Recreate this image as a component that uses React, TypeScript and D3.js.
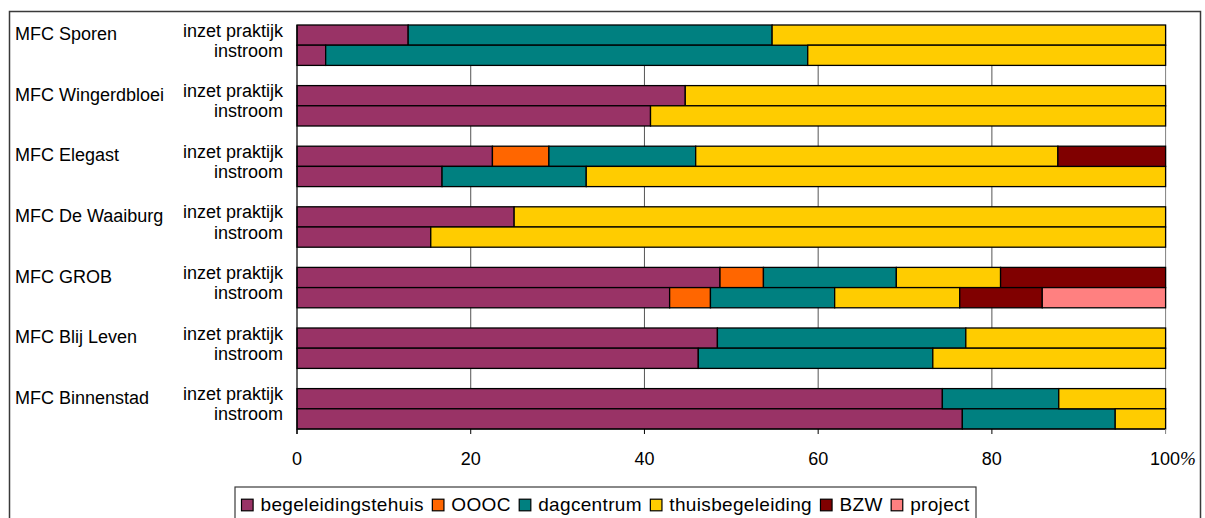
import React from 'react';
import * as d3 from 'd3';

// --- data ---
const groups = [
    'MFC Sporen',
    'MFC Wingerdbloei',
    'MFC Elegast',
    'MFC De Waaiburg',
    'MFC GROB',
    'MFC Blij Leven',
    'MFC Binnenstad',
];
const subLabels = ['inzet praktijk', 'instroom'];

const seriesNames = ['begeleidingstehuis', 'OOOC', 'dagcentrum', 'thuisbegeleiding', 'BZW', 'project'];
const seriesColors = ['#993366', '#FF6600', '#008080', '#FFCC00', '#800000', '#FF8080'];

// one value per bar: group order, "inzet praktijk" then "instroom"
const begeleidingstehuis = [12.8, 3.3, 44.7, 40.7, 22.5, 16.7, 25.0, 15.4, 48.7, 42.9, 48.4, 46.2, 74.3, 76.6];
const oooc = [0, 0, 0, 0, 6.5, 0, 0, 0, 5.0, 4.7, 0, 0, 0, 0];
const dagcentrum = [41.9, 55.5, 0, 0, 16.9, 16.6, 0, 0, 15.3, 14.3, 28.6, 27.0, 13.4, 17.6];
const thuisbegeleiding = [45.3, 41.2, 55.3, 59.3, 41.7, 66.7, 75.0, 84.6, 12.0, 14.4, 23.0, 26.8, 12.3, 5.8];
const bzw = [0, 0, 0, 0, 12.4, 0, 0, 0, 19.0, 9.5, 0, 0, 0, 0];
const project = [0, 0, 0, 0, 0, 0, 0, 0, 0, 14.2, 0, 0, 0, 0];

const seriesValues = [begeleidingstehuis, oooc, dagcentrum, thuisbegeleiding, bzw, project];
const xTicks = [0, 20, 40, 60, 80, 100];

const W = 1205;
const H = 518;
const FONT = '"Liberation Sans", Arial, Helvetica, sans-serif';

type Row = { key: string; [name: string]: number | string };

// rows: two bars per group, an empty slot between groups
const rowKeys: string[] = [];
groups.forEach((g, gi) => {
    rowKeys.push(`${g}|0`, `${g}|1`);
    if (gi < groups.length - 1) rowKeys.push(`${g}|gap`);
});

const rows: Row[] = groups.flatMap((g, gi) =>
    subLabels.map((_s, si) => {
        const r: Row = { key: `${g}|${si}` };
        seriesNames.forEach((n, k) => { r[n] = seriesValues[k][gi * 2 + si]; });
        return r;
    }),
);

let measureCtx: CanvasRenderingContext2D | null = null;
const measure = (text: string, font: string, spacing: number) => {
    if (!measureCtx) measureCtx = document.createElement('canvas').getContext('2d');
    if (!measureCtx) return text.length * 10;
    measureCtx.font = font;
    return measureCtx.measureText(text).width + spacing * text.length;
};

const App: React.FC = () => {
    const plot = { left: 297, right: 1165.6, top: 25, bottom: 429 };

    const x = d3.scaleLinear().domain([0, 100]).range([plot.left, plot.right]);
    const y = d3.scaleBand<string>().domain(rowKeys).range([plot.top, plot.bottom]).padding(0);
    const bw = y.bandwidth();

    const stacked = d3.stack<Row>()
        .keys(seriesNames)
        .value((d, k) => d[k] as number)(rows);

    // legend layout
    const legendFontSize = 19;
    const legendSpacing = 0.33;
    const legendFont = `${legendFontSize}px "Liberation Sans", Arial, sans-serif`;
    const legendLeft = 235;
    const legendTop = 487;
    const marker = 11.6;
    let lx = legendLeft + 6.5;
    const legendItems = seriesNames.map((name, i) => {
        const item = { name, color: seriesColors[i], x: lx };
        lx += marker + 7.4 + measure(name, legendFont, legendSpacing) + 8.5;
        return item;
    });
    const legendRight = lx - 8.5 + 6.5;

    return (
        <svg
            width={W}
            height={H}
            viewBox={`0 0 ${W} ${H}`}
            style={{ position: 'absolute', left: 0, top: 0, display: 'block', background: '#fff' }}
            fontFamily={FONT}
        >
            {/* outer chart border */}
            <rect x={9.5} y={11.5} width={1191} height={H} fill="none" stroke="#3a3a3a" strokeWidth={1.5} />

            {/* gridlines */}
            {xTicks.slice(1).map(t => (
                <line
                    key={`g${t}`}
                    x1={x(t)}
                    x2={x(t)}
                    y1={plot.top}
                    y2={plot.bottom}
                    stroke={t === 100 ? '#808080' : '#555'}
                    strokeWidth={1}
                />
            ))}

            {/* stacked bars */}
            {stacked.map((layer, li) => (
                <g key={seriesNames[li]}>
                    {layer.map(d => {
                        if (d[1] - d[0] <= 0) return null;
                        return (
                            <rect
                                key={d.data.key}
                                x={x(d[0])}
                                y={y(d.data.key)}
                                width={x(d[1]) - x(d[0])}
                                height={bw}
                                fill={seriesColors[li]}
                                stroke="#000"
                                strokeWidth={1.3}
                            />
                        );
                    })}
                </g>
            ))}

            {/* axes */}
            <line x1={x(0)} x2={x(0)} y1={plot.top} y2={plot.bottom + 5} stroke="#000" strokeWidth={1.2} />
            <line x1={x(0)} x2={x(100)} y1={plot.bottom} y2={plot.bottom} stroke="#000" strokeWidth={1.2} />
            {xTicks.map(t => (
                <line
                    key={`t${t}`}
                    x1={x(t)}
                    x2={x(t)}
                    y1={plot.bottom}
                    y2={plot.bottom + 5}
                    stroke={t === 100 ? '#808080' : '#000'}
                    strokeWidth={1}
                />
            ))}
            {xTicks.map(t =>
                t === 100 ? (
                    <text key={`l${t}`} x={x(t) - 15.6} y={465} fontSize={18} fill="#000">
                        100
                        <tspan fontFamily='"Liberation Serif", serif' fontStyle="italic" fontSize={19}>%</tspan>
                    </text>
                ) : (
                    <text key={`l${t}`} x={x(t)} y={465} fontSize={18} textAnchor="middle" fill="#000">
                        {t}
                    </text>
                ),
            )}

            {/* category labels */}
            {groups.map(g => {
                const mid = (y(`${g}|0`) ?? 0) + bw;
                return (
                    <g key={g}>
                        <text x={15} y={mid - 5} fontSize={18} fill="#000">{g}</text>
                        {subLabels.map((s, si) => (
                            <text
                                key={s}
                                x={283}
                                y={(y(`${g}|${si}`) ?? 0) + bw / 2 + 1.5}
                                fontSize={18}
                                textAnchor="end"
                                fill="#000"
                            >
                                {s}
                            </text>
                        ))}
                    </g>
                );
            })}

            {/* legend */}
            <rect
                x={legendLeft}
                y={legendTop}
                width={legendRight - legendLeft}
                height={H}
                fill="#fff"
                stroke="#3a3a3a"
                strokeWidth={1.2}
            />
            {legendItems.map(item => (
                <g key={item.name}>
                    <rect
                        x={item.x}
                        y={499.2}
                        width={marker}
                        height={marker}
                        fill={item.color}
                        stroke="#000"
                        strokeWidth={1.2}
                    />
                    <text
                        x={item.x + marker + 7.4}
                        y={510.5}
                        fontSize={legendFontSize}
                        letterSpacing={legendSpacing}
                        fill="#000"
                    >
                        {item.name}
                    </text>
                </g>
            ))}
        </svg>
    );
};

export default App;
